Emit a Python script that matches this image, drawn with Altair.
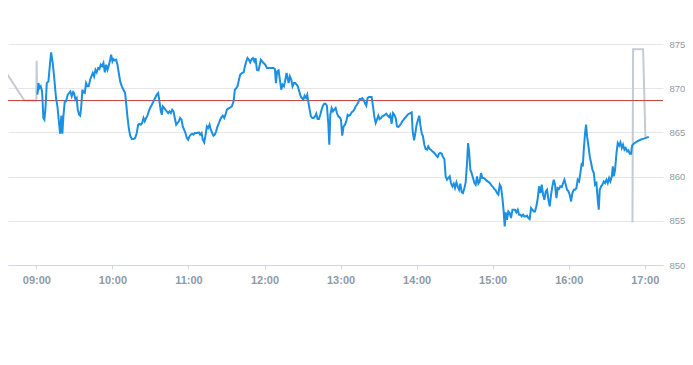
import altair as alt
import pandas as pd

# minutes after 09:00 and price for the main (blue) series
blue_min = [
    0.8, 1.6, 2.4, 3.4, 4.5, 5.5, 6.3, 7.1, 8.2, 9.5, 10.3, 11.6, 12.9, 14.2, 15.5, 16.6, 17.6, 18.7, 19.7, 20.5,
    21.3, 22.4, 23.4, 24.7, 25.8, 26.8, 27.9, 29.0, 29.7, 30.8, 31.8, 32.6, 33.7, 34.5, 35.3, 36.3, 37.1, 38.2, 39.2, 40.3,
    41.3, 42.4, 43.4, 44.5, 45.5, 46.6, 47.6, 48.7, 49.7, 50.8, 51.8, 52.9, 54.0, 55.0, 56.1, 57.1, 58.2, 59.0, 60.0, 60.8,
    61.8, 62.9, 64.0, 65.0, 66.1, 67.4, 68.7, 70.0, 70.8, 71.8, 72.9, 74.0, 75.3, 76.6, 77.9, 79.2, 80.3, 81.3, 82.4, 83.4,
    84.5, 85.5, 86.6, 87.6, 88.7, 89.7, 91.1, 92.4, 93.7, 95.0, 96.1, 97.1, 98.2, 99.0, 99.7, 100.8, 101.8, 102.9, 104.0, 105.0,
    106.1, 107.1, 108.2, 109.2, 110.3, 111.3, 112.4, 113.4, 114.5, 115.5, 116.6, 117.6, 118.7, 119.7, 120.8, 121.8, 122.9, 124.0, 125.0, 126.6,
    128.2, 129.2, 130.3, 131.3, 132.4, 133.4, 134.5, 135.5, 136.6, 137.6, 138.7, 139.7, 140.8, 141.8, 142.9, 144.0, 145.0, 146.1, 147.1, 148.2,
    149.2, 150.3, 151.3, 152.4,
    154.2, 155.6, 156.6, 157.7, 158.7, 159.8, 160.8, 162.1, 163.5, 164.5, 165.6, 166.6, 167.7, 168.7, 169.8, 170.8, 171.9, 172.9, 174.0, 175.3,
    176.1, 177.1, 178.2, 179.2, 180.6, 181.9, 183.2, 184.5, 185.8, 187.1, 188.2, 189.0, 190.0, 191.1, 192.1, 193.2, 194.2, 195.3, 196.4, 197.4,
    198.2, 199.0, 200.0, 201.1, 202.1, 203.2, 204.2, 205.3, 206.3, 207.4, 208.5, 209.5, 210.6, 211.6, 212.7, 213.7, 214.5, 215.6, 216.6, 217.7,
    218.7, 219.8, 220.8, 221.9, 222.9, 224.0, 225.0, 226.1, 227.1, 228.2, 229.2, 230.3, 231.1, 231.9, 233.0, 234.0, 235.0, 236.1, 237.1, 238.2,
    239.2, 240.3, 241.3, 242.4, 243.5, 244.5, 245.6, 246.6, 247.7, 248.7, 249.8, 250.8, 251.9, 252.9, 254.0, 255.0, 256.1, 257.1, 258.2, 259.2,
    260.3, 261.3, 262.4, 263.5, 264.5, 265.6, 266.6, 267.7, 268.7, 269.8, 270.8, 271.9, 272.9, 274.0, 275.0, 276.1, 277.1, 278.2, 279.2, 280.3,
    281.4, 282.4, 283.5, 284.5, 285.6, 286.6, 287.7, 288.7, 289.8, 290.8, 291.9, 292.9, 294.0, 295.0, 296.1, 296.9, 298.0, 299.0, 300.0, 301.1,
    302.1, 302.9, 304.0, 305.0, 306.1, 307.1, 308.2, 309.2, 310.3, 311.3, 312.4, 313.5, 314.5, 315.6, 316.6, 317.7, 318.7, 319.8, 320.8, 321.9,
    322.9, 324.0, 325.0, 326.1, 327.1, 328.2, 329.3, 330.3, 331.4, 332.4, 333.5, 334.5, 335.6, 336.6, 337.7, 338.7, 339.8, 340.6, 341.4, 342.4,
    343.4, 344.5, 345.6, 346.6, 347.7, 348.7, 349.8, 350.8, 351.9, 352.9, 354.0, 355.0, 356.1, 357.1, 358.2, 359.2, 360.3, 361.3, 362.4, 363.4,
    364.5, 365.6, 366.6, 367.7, 368.7, 369.5, 370.3, 371.3, 372.4, 373.4, 374.5, 375.6, 376.6, 377.7, 378.7, 379.8, 380.8, 381.9, 382.9, 384.0,
    385.0, 386.1, 387.1, 388.2, 389.2, 390.3, 391.3, 392.4, 393.4, 394.5, 395.6, 396.6, 397.7, 398.7, 399.8, 400.8, 401.9, 402.9, 404.0, 405.0,
    406.1, 407.1, 408.2, 409.2, 410.3, 411.3, 412.4, 413.4, 414.5, 415.6, 416.6, 417.7, 418.7, 419.8, 420.8, 421.9, 422.9, 424.0, 425.0, 426.1,
    427.1, 428.2, 429.2, 430.3, 431.1, 431.9, 432.9, 433.7, 434.5, 435.6, 436.6, 437.7, 438.7, 439.8, 440.8, 441.9, 442.9, 443.7, 444.5, 445.6,
    446.6, 447.7, 448.7, 449.8, 450.8, 451.9, 452.9, 454.0, 454.8, 455.6, 456.6, 457.7, 458.7, 459.8, 460.8, 461.9, 462.9, 464.0, 465.0, 466.1,
    467.1, 468.2, 469.2, 470.0, 471.3, 474.0, 476.6, 479.2, 481.9, 483.2,
]
blue_val = [
    869.27, 870.58, 870.02, 870.21, 869.64, 866.63, 866.44, 867.57, 870.58, 870.77, 872.09, 874.05, 872.85, 870.96, 868.89, 867.94, 866.44, 864.85, 866.89, 864.85,
    866.81, 868.51, 868.51, 869.27, 869.45, 869.64, 869.08, 869.57, 869.45, 868.70, 868.89, 867.57, 867.00, 866.89, 867.76, 869.83, 869.53, 869.45, 870.58, 870.21,
    870.21, 870.96, 871.34, 871.72, 871.34, 872.09, 871.79, 872.28, 872.17, 872.66, 872.47, 872.85, 871.79, 872.66, 872.09, 872.55, 873.22, 873.79, 873.04, 873.30,
    873.15, 873.22, 872.66, 871.72, 870.77, 870.21, 869.83, 869.45, 868.32, 866.81, 865.49, 864.63, 864.25, 864.25, 864.36, 864.93, 865.87, 865.95, 865.87, 866.06,
    866.63, 866.25, 866.63, 866.89, 867.38, 867.76, 868.13, 868.51, 868.89, 869.27, 869.45, 868.51, 867.38, 867.00, 867.94, 867.76, 867.57, 867.38, 867.19, 867.38,
    867.19, 867.57, 867.38, 866.63, 865.87, 866.06, 866.25, 866.63, 866.44, 865.68, 865.30, 864.93, 864.36, 864.17, 864.55, 864.74, 864.85, 864.74, 864.93, 864.93,
    865.00, 864.74, 864.93, 864.17, 863.87, 864.63, 865.68, 865.49, 865.87, 865.30, 864.93, 864.63, 864.74, 865.12, 865.68, 866.06, 866.44, 866.74, 866.89, 866.63,
    867.00, 867.57, 867.68, 867.76,
    867.94, 868.51, 869.83, 870.02, 870.21, 870.96, 871.53, 871.72, 871.79, 872.47, 873.04, 873.41, 873.22, 872.92, 873.30, 873.41, 873.04, 873.41, 872.09, 872.02,
    872.55, 873.22, 873.04, 872.85, 872.66, 872.28, 872.28, 872.28, 872.28, 872.28, 872.17, 870.58, 871.90, 872.02, 870.96, 869.83, 870.40, 870.21, 870.96, 871.72,
    871.15, 870.58, 871.34, 870.96, 870.21, 870.58, 870.58, 870.40, 870.21, 869.64, 869.08, 868.89, 868.70, 869.15, 868.89, 869.27, 868.51, 867.57, 866.81, 866.63,
    866.63, 866.81, 867.11, 866.51, 866.51, 867.00, 867.57, 868.02, 868.25, 868.25, 868.02, 866.06, 863.61, 867.00, 867.76, 867.38, 867.57, 867.76, 867.19, 866.81,
    866.74, 866.44, 864.63, 865.68, 865.87, 866.25, 867.00, 866.89, 867.00, 867.27, 867.38, 867.57, 867.94, 868.13, 868.40, 868.78, 868.78, 868.89, 868.70, 868.32,
    868.02, 868.89, 869.00, 869.00, 869.00, 867.94, 866.81, 866.06, 866.44, 866.89, 866.51, 866.63, 866.81, 866.89, 867.00, 867.11, 866.89, 866.74, 867.00, 865.98,
    867.19, 867.00, 866.63, 865.68, 865.61, 865.76, 865.98, 866.25, 866.44, 866.63, 866.81, 867.00, 867.11, 867.19, 867.27, 865.12, 864.10, 864.93, 865.87, 866.44,
    866.89, 865.87, 864.93, 864.55, 863.61, 863.12, 863.04, 863.42, 863.12, 863.04, 862.86, 862.74, 862.59, 862.36, 862.21, 862.59, 862.67, 862.59, 862.21, 861.99,
    860.03, 859.65, 859.84, 860.03, 859.27, 858.90, 859.20, 858.71, 859.35, 858.90, 858.52, 859.20, 858.22, 858.14, 858.71, 859.35, 861.54, 863.80, 862.86, 860.78,
    860.40, 859.84, 859.27, 859.08, 860.03, 859.20, 859.46, 860.40, 859.84, 859.84, 859.73, 859.57, 859.46, 859.35, 859.20, 858.97, 858.82, 858.60, 858.44, 858.14,
    857.95, 859.08, 858.82, 857.57, 856.06, 854.36, 855.95, 855.12, 856.06, 855.88, 855.31, 856.25, 856.25, 856.25, 855.95, 856.25, 855.69, 855.69, 855.50, 855.69,
    855.50, 855.50, 855.58, 855.31, 855.20, 856.44, 856.25, 856.06, 856.06, 856.63, 857.57, 858.90, 858.14, 859.08, 857.95, 857.38, 858.33, 858.52, 857.38, 856.63,
    857.95, 858.90, 859.65, 859.08, 857.57, 858.71, 858.60, 858.90, 858.82, 859.27, 859.65, 859.08, 858.52, 858.33, 857.95, 857.19, 858.14, 858.52, 858.52, 858.71,
    859.65, 859.46, 860.40, 861.54, 861.16, 863.04, 864.93, 865.87, 864.55, 863.42, 862.29, 861.54, 860.78, 860.40, 859.08, 859.27, 857.38, 856.25, 858.52, 858.90,
    859.08, 859.46, 859.27, 859.65, 859.27, 859.84, 859.46, 860.03, 861.16, 860.03, 860.78, 862.67, 863.80, 863.50, 863.88, 863.23, 863.61, 863.04, 863.23, 862.86,
    862.97, 862.59, 862.59, 863.50, 863.72, 863.99, 864.17, 864.29, 864.44, 864.48,
]

# pre / post session (grey) series, minutes after 09:00, in two separate pieces
grey_seg = ["pre", "pre", "pre", "pre", "pre", "post", "post", "post", "post"]
grey_min = [-28.7, -9.5, 0.0, 0.2, 0.5, 470.3, 470.8, 478.7, 480.5]
grey_val = [872.85, 868.6, 868.6, 873.1, 870.3, 854.8, 874.4, 874.4, 864.5]

ref_price = [868.6]
y_ticks = [850, 855, 860, 865, 870, 875]
x_tick_hours = [9, 10, 11, 12, 13, 14, 15, 16, 17]

START = 540  # 09:00 in minutes of day
blue = pd.DataFrame({"t": [START + m for m in blue_min], "v": blue_val})
grey = pd.DataFrame({"t": [START + m for m in grey_min], "v": grey_val, "seg": grey_seg})
ref = pd.DataFrame({"v": ref_price})

label_color = "#8c9aa9"
x_enc = alt.X(
    "t:Q",
    scale=alt.Scale(domain=[517.6, 1034.4], nice=False, zero=False),
    axis=alt.Axis(
        values=[h * 60 for h in x_tick_hours],
        labelExpr="(datum.value < 600 ? '0' : '') + floor(datum.value / 60) + ':00'",
        title=None,
        grid=False,
        domain=True,
        domainColor="#ccd6eb",
        ticks=True,
        tickColor="#ccd6eb",
        tickSize=4,
        labelPadding=5,
        labelFontSize=11,
        labelFontWeight="bold",
        labelColor=label_color,
        labelFont="Liberation Sans",
    ),
)
y_enc = alt.Y(
    "v:Q",
    scale=alt.Scale(domain=[850, 875], nice=False, zero=False),
    axis=alt.Axis(
        orient="right",
        values=y_ticks,
        title=None,
        grid=True,
        gridColor="#e6e6e6",
        domain=False,
        ticks=False,
        labelPadding=6,
        labelFontSize=9.5,
        labelColor=label_color,
        labelFont="Liberation Sans",
        labelBaseline="middle",
    ),
)

grey_line = (
    alt.Chart(grey)
    .mark_line(color="#c3cbd4", strokeWidth=2, clip=True)
    .encode(x=x_enc, y=y_enc, detail="seg:N", order="t:Q")
)
ref_line = alt.Chart(ref).mark_rule(color="#c0413b", strokeWidth=1).encode(y=alt.Y("v:Q"))
blue_line = alt.Chart(blue).mark_line(color="#1b8fe2", strokeWidth=2, clip=True).encode(x=alt.X("t:Q"), y=alt.Y("v:Q"))

chart = (
    alt.layer(grey_line, ref_line, blue_line)
    .properties(
        width=655,
        height=221,
        padding={"left": 0, "top": 36, "right": 22, "bottom": 60},
        autosize=alt.AutoSizeParams(type="none"),
    )
    .configure_view(stroke=None)
)

chart.save("out.html", embed_options={"renderer": "svg", "actions": False})
